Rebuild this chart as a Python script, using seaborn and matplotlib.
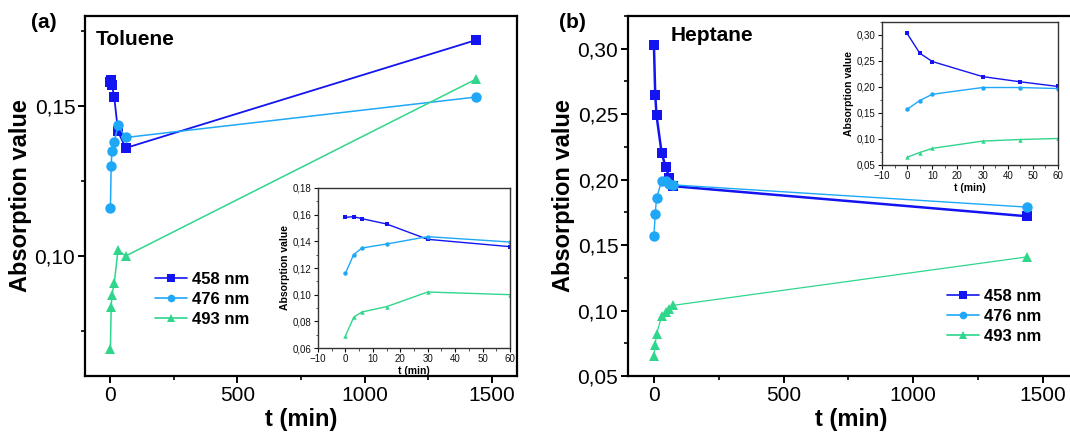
import numpy as np
import pandas as pd
import matplotlib
matplotlib.use("Agg")
import matplotlib.pyplot as plt
from matplotlib.ticker import MultipleLocator, FuncFormatter
from matplotlib.lines import Line2D
import seaborn as sns

# ---------------- data ----------------
series_names = ["458 nm", "476 nm", "493 nm"]

tol_time = [0, 3, 6, 15, 30, 60, 1440]
tol_458 = [0.158, 0.1585, 0.157, 0.153, 0.1415, 0.136, 0.172]
tol_476 = [0.116, 0.130, 0.135, 0.138, 0.1435, 0.1395, 0.153]
tol_493 = [0.069, 0.083, 0.087, 0.091, 0.102, 0.100, 0.159]

hep_time = [0, 5, 10, 30, 45, 60, 75, 1440]
hep_458 = [0.303, 0.265, 0.249, 0.220, 0.210, 0.201, 0.195, 0.172]
hep_476 = [0.157, 0.174, 0.186, 0.199, 0.199, 0.197, 0.196, 0.179]
hep_493 = [0.065, 0.074, 0.082, 0.096, 0.099, 0.101, 0.104, 0.141]

colors = ["#1414f0", "#1ea8f7", "#2fd68c"]
markers = ["s", "o", "^"]

sns.set_style("ticks")
plt.rcParams["font.family"] = ["Liberation Sans", "DejaVu Sans"]
plt.rcParams["text.color"] = "black"
plt.rcParams["axes.labelcolor"] = "black"
plt.rcParams["xtick.color"] = "black"
plt.rcParams["ytick.color"] = "black"

fig = plt.figure(figsize=(10.7, 4.36), dpi=100)

def comma_fmt(dec):
    return FuncFormatter(lambda v, p: f"{v:.{dec}f}".replace(".", ","))

def style_main(ax):
    for s in ax.spines.values():
        s.set_linewidth(1.6)
        s.set_color("black")
    ax.tick_params(axis="both", which="major", direction="out", length=5, width=1.4,
                   labelsize=15, pad=2, top=False, right=False)
    ax.tick_params(axis="both", which="minor", direction="out", length=3, width=1.2,
                   top=False, right=False)
    ax.set_xlabel("t (min)", fontsize=17, fontweight="bold", labelpad=2)
    ax.set_ylabel("Absorption value", fontsize=17, fontweight="bold", labelpad=2)
    ax.xaxis.set_major_locator(MultipleLocator(500))
    ax.xaxis.set_minor_locator(MultipleLocator(250))

def style_inset(ax):
    for s in ax.spines.values():
        s.set_linewidth(1.0)
        s.set_color("#333333")
    ax.tick_params(axis="both", which="major", direction="out", length=3, width=0.8,
                   labelsize=7, pad=1.5, colors="#111111", top=False, right=False)
    ax.tick_params(axis="both", which="minor", direction="out", length=1.8, width=0.6,
                   colors="#333333", top=False, right=False)
    ax.set_xlabel("t (min)", fontsize=7.5, fontweight="bold", labelpad=1)
    ax.set_ylabel("Absorption value", fontsize=7.5, fontweight="bold", labelpad=2)
    ax.set_xlim(-10, 60)
    ax.xaxis.set_major_locator(MultipleLocator(10))
    ax.xaxis.set_minor_locator(MultipleLocator(5))
    ax.set_facecolor("white")

def draw(ax, t, ys, ms, lws, inset=False):
    for y, c, m, lw in zip(ys, colors, markers, lws):
        df = pd.DataFrame({"t": t, "y": y})
        if inset:
            df = df[df["t"] <= 100]
        sns.lineplot(data=df, x="t", y="y", ax=ax, color=c, marker=m,
                     markersize=ms, markeredgewidth=0, linewidth=lw,
                     sort=True, legend=False)

# ---------------- panel (a) ----------------
axa = fig.add_axes([85/1070, 60/436, 432/1070, 360/436])
draw(axa, tol_time, [tol_458, tol_476, tol_493], 7.5, [1.3, 1.1, 1.1])
axa.set_xlim(-100, 1600)
axa.set_ylim(0.06, 0.18)
axa.yaxis.set_major_locator(MultipleLocator(0.05))
axa.yaxis.set_minor_locator(MultipleLocator(0.025))
axa.yaxis.set_major_formatter(comma_fmt(2))
style_main(axa)
axa.text(0.025, 0.935, "Toluene", transform=axa.transAxes, fontsize=15,
         fontweight="bold", ha="left", va="center")

ina = fig.add_axes([318/1070, 88/436, 192/1070, 160/436])
draw(ina, tol_time, [tol_458, tol_476, tol_493], 3.2, [1.0, 1.0, 1.0], inset=True)
ina.set_ylim(0.06, 0.18)
ina.yaxis.set_major_locator(MultipleLocator(0.02))
ina.yaxis.set_minor_locator(MultipleLocator(0.01))
ina.yaxis.set_major_formatter(comma_fmt(2))
style_inset(ina)

# ---------------- panel (b) ----------------
axb = fig.add_axes([628/1070, 60/436, 446/1070, 360/436])
draw(axb, hep_time, [hep_458, hep_476, hep_493], 7.5, [1.8, 1.0, 0.9])
axb.set_xlim(-100, 1620)
axb.set_ylim(0.05, 0.325)
axb.yaxis.set_major_locator(MultipleLocator(0.05))
axb.yaxis.set_minor_locator(MultipleLocator(0.025))
axb.yaxis.set_major_formatter(comma_fmt(2))
style_main(axb)
axb.text(0.095, 0.945, "Heptane", transform=axb.transAxes, fontsize=15,
         fontweight="bold", ha="left", va="center")

inb = fig.add_axes([882/1070, 271/436, 176/1070, 143/436])
draw(inb, hep_time, [hep_458, hep_476, hep_493], 3.2, [1.0, 1.0, 1.0], inset=True)
inb.set_ylim(0.05, 0.325)
inb.yaxis.set_major_locator(MultipleLocator(0.05))
inb.yaxis.set_minor_locator(MultipleLocator(0.025))
inb.yaxis.set_major_formatter(comma_fmt(2))
style_inset(inb)

# ---------------- legends ----------------
def make_handles():
    return [Line2D([0], [0], color=c, marker=m, markersize=5.5, markeredgewidth=0,
                   linewidth=1.2) for c, m in zip(colors, markers)]

for ax, (x0, y0) in [(axa, (155, 272)), (axb, (947, 289))]:
    ax.legend(make_handles(), series_names, loc="upper left",
              bbox_to_anchor=(x0/1070, 1 - y0/436), bbox_transform=fig.transFigure,
              frameon=False, borderpad=0, borderaxespad=0, handlelength=1.9,
              handletextpad=0.35, labelspacing=0.3,
              prop={"size": 12, "weight": "bold"})

# ---------------- panel letters ----------------
fig.text(44/1070, 1 - 23/436, "(a)", fontsize=15, fontweight="bold", ha="center", va="center")
fig.text(572/1070, 1 - 22/436, "(b)", fontsize=15, fontweight="bold", ha="center", va="center")

fig.savefig("out.png", dpi=100)
